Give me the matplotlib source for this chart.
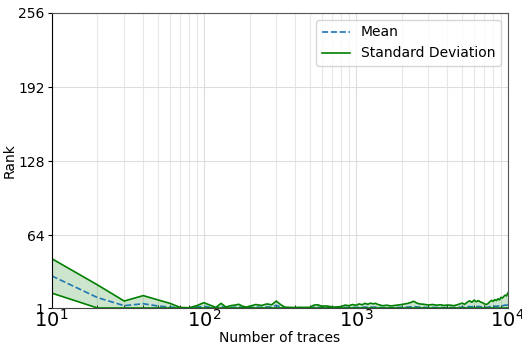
import numpy as np
import matplotlib
matplotlib.use("Agg")
import matplotlib.pyplot as plt

# number of traces used for each rank estimate
n_traces = [10, 20, 30, 40, 50, 60, 70, 80, 90, 100,
            110, 120, 130, 140, 150, 160, 170, 180, 190, 200,
            220, 240, 260, 280, 300, 320, 340, 360, 380, 400,
            430, 460, 500, 530, 560, 600, 640, 680, 720, 760,
            800, 850, 900, 950, 1000, 1050, 1100, 1150, 1200, 1250,
            1300, 1350, 1400, 1500, 1600, 1700, 1800, 1900, 2000, 2100,
            2200, 2300, 2400, 2500, 2600, 2800, 3000, 3200, 3400, 3600,
            3800, 4000, 4200, 4400, 4600, 4800, 5000, 5200, 5400, 5600,
            5800, 6000, 6200, 6400, 6600, 6800, 7000, 7200, 7400, 7600,
            7800, 8000, 8200, 8400, 8600, 8800, 9000, 9200, 9400, 9600,
            9800, 10000]

rank_mean = [28.8, 10.0, 3.0, 4.7, 2.7, 1.8, 1.1, 1.05, 1.5, 2.5,
             1.6, 1.1, 2.2, 1.2, 1.4, 1.6, 1.9, 1.3, 1.1, 1.3,
             1.8, 1.5, 2.0, 1.7, 3.3, 1.9, 1.1, 1.1, 1.1, 1.1,
             1.1, 1.1, 1.1, 1.6, 1.7, 1.3, 1.4, 1.2, 1.1, 1.2,
             1.2, 1.5, 1.4, 1.6, 1.4, 1.7, 1.5, 1.8, 1.6, 1.9,
             1.7, 1.8, 1.6, 1.3, 1.4, 1.2, 1.3, 1.5, 1.6, 1.7,
             1.8, 2.0, 2.4, 2.0, 1.8, 1.6, 1.4, 1.5, 1.4, 1.5,
             1.3, 1.4, 1.4, 1.3, 1.5, 1.6, 1.8, 1.6, 2.0, 2.3,
             2.0, 2.5, 2.1, 2.4, 2.1, 1.9, 1.7, 1.5, 1.7, 2.1,
             2.4, 2.2, 2.6, 2.4, 2.8, 2.5, 3.0, 2.9, 3.2, 3.5,
             3.3, 4.0]

rank_std = [14.9, 11.0, 4.0, 7.0, 5.3, 3.2, 0.4, 0.15, 1.5, 3.1,
            1.9, 0.4, 2.8, 0.6, 1.6, 1.9, 2.3, 1.2, 0.7, 1.2,
            2.2, 1.7, 2.5, 2.1, 3.7, 2.1, 0.7, 0.5, 0.4, 0.4,
            0.5, 0.4, 0.5, 1.9, 2.1, 1.2, 1.4, 1.0, 0.7, 0.8,
            1.0, 2.0, 1.6, 2.4, 1.9, 2.8, 2.3, 3.2, 2.6, 3.3,
            2.9, 3.2, 2.4, 1.7, 2.0, 1.6, 1.9, 2.1, 2.4, 2.8,
            3.2, 3.8, 4.4, 3.5, 2.8, 2.6, 2.2, 2.5, 2.0, 2.3,
            1.9, 2.2, 2.0, 1.7, 2.1, 2.8, 3.4, 2.6, 4.0, 4.9,
            4.0, 5.3, 4.3, 5.0, 4.1, 3.7, 2.9, 2.5, 3.1, 4.3,
            5.2, 4.6, 5.6, 5.0, 6.2, 5.5, 7.2, 6.7, 7.8, 8.7,
            8.1, 10.0]

rank_ticks = [1, 64, 128, 192, 256]

x = np.array(n_traces)
mean = np.array(rank_mean)
std = np.array(rank_std)
upper = mean + std
lower = np.maximum(mean - std, 1)

fig = plt.figure(figsize=(5.22, 3.5), dpi=100)
ax = fig.add_axes([0.099, 0.12, 0.874, 0.843])

ax.plot(x, mean, "--", color="#1f77b4", linewidth=1.2, label="Mean")
ax.plot(x, upper, color="green", linewidth=1.2, label="Standard Deviation")
ax.plot(x, lower, color="green", linewidth=1.2)
ax.fill_between(x, lower, upper, color="green", alpha=0.2, linewidth=0)

ax.set_xscale("log")
ax.set_xlim(10, 10000)
ax.set_ylim(1, 256)
ax.set_yticks(rank_ticks)

ax.grid(True, which="major", color="#dddddd", linewidth=0.8)
ax.grid(True, which="minor", axis="x", color="#e8e8e8", linewidth=0.8)
ax.set_axisbelow(True)

ax.tick_params(axis="x", which="major", labelsize=14, length=0, pad=1)
ax.tick_params(axis="x", which="minor", length=2, direction="in")
ax.tick_params(axis="y", labelsize=10, length=3, pad=2)

for side in ["top", "right"]:
    ax.spines[side].set_color("#555555")
ax.spines["left"].set_color("black")
ax.spines["bottom"].set_color("#444444")

ax.set_xlabel("Number of traces", fontsize=10, labelpad=0)
ax.set_ylabel("Rank", fontsize=10, labelpad=1)
ax.legend(loc="upper right", fontsize=10)

fig.savefig("out.png", dpi=100)
